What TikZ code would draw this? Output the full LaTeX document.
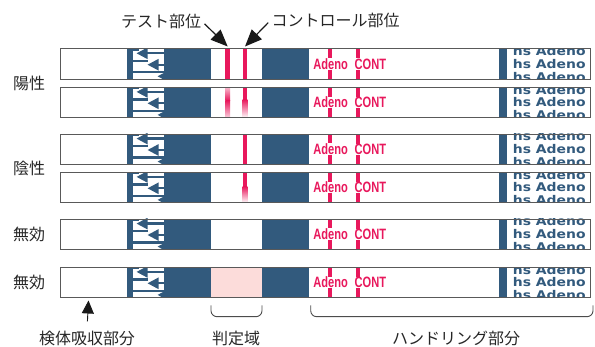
\documentclass[tikz,border=0pt]{standalone}
\usepackage{fontspec}
\setmainfont{Liberation Sans}
\newfontfamily\jpfont{Noto Sans CJK JP}
\newfontfamily\hsfont{DejaVu Sans}
\usetikzlibrary{arrows.meta}
\definecolor{stripblue}{RGB}{50,90,125}
\definecolor{linered}{RGB}{232,24,92}
\definecolor{pinkzone}{RGB}{252,220,218}

\begin{document}
\begin{tikzpicture}[x=1pt, y=-1pt,
    lbl/.style={font=\jpfont\fontsize{16}{16}\selectfont, text=black!85, inner sep=1pt},
    block/.style={fill=stripblue},
    band/.style={fill=linered},
    flow/.style={stripblue, line width=2.2pt},
    hs/.style={font=\hsfont\bfseries\fontsize{12}{12}\selectfont, text=stripblue, inner sep=0pt, anchor=base west},
    kit/.style={font=\bfseries\fontsize{15}{15}\selectfont, text=linered, fill=white, inner sep=0.4pt, anchor=base west},
    pointer/.style={-{Triangle[length=17pt,width=14pt]}, line width=1.2pt, black!90},
    brace/.style={draw=black!70, line width=0.9pt, rounded corners=6pt}]

    \useasboundingbox (0,0) rectangle (595,347);

    % the six strips
    \foreach \ytop [count=\i] in {48.7,87.3,134,172.3,219,267.3} {
        \fill[white] (60,\ytop) rectangle (590,\ytop+30.6);
        \fill[block] (127.3,\ytop) rectangle (132.7,\ytop+30.6);
        \fill[block] (164,\ytop) rectangle (211,\ytop+30.6);
        \fill[block] (262,\ytop) rectangle (308.7,\ytop+30.6);
        \fill[block] (499,\ytop) rectangle (507,\ytop+30.6);
        \begin{scope}
            \clip (132.7,\ytop) rectangle (164,\ytop+30.6);
            \foreach \tx/\ty/\lx/\ly in {136.5/4.6/139/1, 147.5/16/148/12.3, 157.5/27.6/164/23.6} {
                \draw[flow] (132.7,\ytop+\ly) -- (\lx,\ytop+\ly);
                \draw[flow, -{Triangle[length=11pt,width=11pt]}] (164,\ytop+\ty) -- (\tx,\ytop+\ty);
            }
        \end{scope}
        \begin{scope}
            \clip (507,\ytop) rectangle (590,\ytop+30.6);
            \node[hs] (hsa\i) at (512.7,\ytop+6.8) {\scalebox{1.16}[1]{hs Adeno}};
            \node[hs] (hsb\i) at (512.7,\ytop+19.6) {\scalebox{1.16}[1]{hs Adeno}};
            \node[hs] (hsc\i) at (512.7,\ytop+32.4) {\scalebox{1.16}[1]{hs Adeno}};
        \end{scope}
        \fill[band] (327.7,\ytop) rectangle (331.7,\ytop+30.6);
        \fill[band] (355.7,\ytop) rectangle (359.7,\ytop+30.6);
        \node[kit] (adeno\i) at (312.7,\ytop+20.5) {\scalebox{0.74}[1]{Adeno}};
        \node[kit] (cont\i) at (354,\ytop+20.5) {\scalebox{0.74}[1]{CONT}};
    }

    % result lines
    \fill[band] (225.3,48.7) rectangle (230,79.3);
    \fill[band] (242.7,48.7) rectangle (247.3,79.3);
    \shade[top color=linered!30, bottom color=linered] (225.3,87.3) rectangle (230,100.5);
    \shade[top color=linered, bottom color=linered!20] (225.3,100.5) rectangle (230,117.9);
    \fill[band] (242.7,87.3) rectangle (247.3,99.5);
    \shade[top color=linered, bottom color=white] (242.7,99.5) rectangle (247.3,117.9);
    \fill[band] (242.7,134) rectangle (247.3,164.6);
    \fill[band] (242.7,172.3) rectangle (247.3,186.5);
    \shade[top color=linered, bottom color=white] (242.7,186.5) rectangle (247.3,202.9);
    \fill[pinkzone] (211,267.3) rectangle (262,297.9);

    \foreach \ytop in {48.7,87.3,134,172.3,219,267.3}
        \draw[black!65, line width=0.9pt] (60,\ytop) rectangle (590,\ytop+30.6);

    % labels
    \node[lbl] (testlbl) at (161.2,21.7) {テスト部位};
    \node[lbl] (ctrllbl) at (335.5,20.5) {コントロール部位};
    \coordinate (testtip) at (227.7,46.5);
    \coordinate (ctrltip) at (245,46.5);
    \draw[pointer, shorten <=3pt] (testlbl.east) -- (testtip);
    \draw[pointer, shorten <=3pt] (ctrllbl.west) -- (ctrltip);

    \node[lbl] (pos) at (29,83.4) {陽性};
    \node[lbl] (neg) at (29,168.5) {陰性};
    \node[lbl] (inv1) at (29,234.5) {無効};
    \node[lbl] (inv2) at (29,282.5) {無効};

    \node[lbl] (sample) at (87,338) {検体吸収部分};
    \node[lbl] (judge) at (236,338) {判定域};
    \node[lbl] (handling) at (456,338) {ハンドリング部分};
    \coordinate (sampletip) at (88.5,300.5);
    \draw[-{Triangle[length=13pt,width=12pt]}, line width=0.9pt, black!90, shorten <=8pt] (sample.north) -- (sampletip);

    \draw[brace] (211,305.5) -- (211,316.7) -- (262,316.7) -- (262,305.5);
    \draw[brace] (310.7,305.5) -- (310.7,316.7) -- (593,316.7) -- (593,305.5);
\end{tikzpicture}
\end{document}
